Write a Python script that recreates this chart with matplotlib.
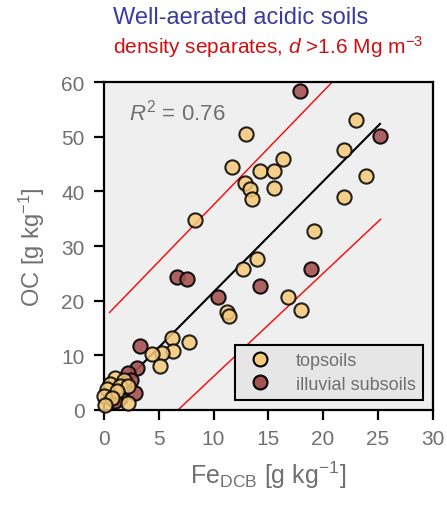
import matplotlib
matplotlib.use("Agg")
import matplotlib.pyplot as plt
from matplotlib.lines import Line2D

plt.rcParams['font.family'] = ['Liberation Sans', 'DejaVu Sans']
plt.rcParams['mathtext.fontset'] = 'custom'
plt.rcParams['mathtext.rm'] = 'Liberation Sans'
plt.rcParams['mathtext.it'] = 'Liberation Sans:italic'

# topsoils: Fe_DCB [g/kg], OC [g/kg]
top_fe = [23.0, 13.0, 21.9, 16.3, 11.7, 14.2, 15.5, 23.9, 12.9, 13.3, 13.5, 15.5,
          21.9, 8.3, 19.2, 14.0, 12.7, 16.8, 18.0, 11.2, 11.4, 7.8, 6.2, 6.3,
          5.3, 4.4, 5.1, 1.0, 1.8, 0.55, 1.5, 2.2, 0.25, 1.2, 0.0, 0.7, 0.1, 2.2]
top_oc = [53.2, 50.6, 47.6, 46.0, 44.5, 43.7, 43.7, 42.8, 41.6, 40.5, 38.7, 40.7,
          39.0, 34.8, 32.7, 27.6, 25.7, 20.7, 18.2, 17.8, 17.2, 12.4, 13.2, 10.7,
          10.3, 10.1, 7.9, 5.8, 5.5, 4.6, 4.3, 4.3, 3.7, 3.4, 2.4, 2.1, 0.9, 1.2]

# illuvial subsoils
sub_fe = [17.9, 25.2, 18.9, 6.7, 7.6, 14.2, 10.4, 3.3, 3.0, 2.2, 2.5, 2.8, 1.5, 1.0]
sub_oc = [58.5, 50.1, 25.7, 24.3, 24.0, 22.6, 20.7, 11.6, 7.6, 6.7, 5.5, 3.1, 2.1, 1.5]

# regression line and prediction band
fit_x = [0.0, 25.2]
fit_y = [1.25, 52.4]
upper_x = [0.5, 20.8]
upper_y = [17.8, 60.0]
lower_x = [6.8, 25.25]
lower_y = [0.0, 34.9]

c_top = '#f5c97a'
c_sub = '#a65353'
grey = '#707070'

fig = plt.figure(figsize=(4.47, 5.06), dpi=100)
ax = fig.add_axes([0.2327, 0.1887, 0.735, 0.6463])
ax.set_facecolor('#efefef')

ax.plot(fit_x, fit_y, color='black', lw=1.5, zorder=2)
ax.plot(upper_x, upper_y, color='red', lw=1.0, zorder=2)
ax.plot(lower_x, lower_y, color='red', lw=1.0, zorder=2)

ax.scatter(sub_fe, sub_oc, s=105, color=c_sub, edgecolor='black', linewidth=1.5,
           alpha=0.9, zorder=3, clip_on=False)
ax.scatter(top_fe, top_oc, s=105, color=c_top, edgecolor='black', linewidth=1.5,
           alpha=0.85, zorder=4, clip_on=False)

ax.set_xlim(0, 30)
ax.set_ylim(0, 60)
ax.set_xticks([0, 5, 10, 15, 20, 25, 30])
ax.set_yticks([0, 10, 20, 30, 40, 50, 60])
for sp in ax.spines.values():
    sp.set_linewidth(1.6)
ax.tick_params(direction='out', length=7, width=1.6, labelsize=15,
               labelcolor=grey, pad=7)

ax.set_xlabel(r'Fe$_{\mathrm{DCB}}$ [g kg$^{\mathrm{-1}}$]', fontsize=18, color=grey, labelpad=8)
ax.set_ylabel(r'OC [g kg$^{\mathrm{-1}}$]', fontsize=17, color=grey, labelpad=10)

ax.text(0.076, 0.91, r'$R^2$ = 0.76', transform=ax.transAxes, fontsize=16,
        color=grey, va='center', ha='left')

handles = [
    Line2D([], [], marker='o', ls='none', markersize=10, markerfacecolor=c_top,
           markeredgecolor='black', markeredgewidth=1.5),
    Line2D([], [], marker='o', ls='none', markersize=10, markerfacecolor=c_sub,
           markeredgecolor='black', markeredgewidth=1.5),
]
leg = ax.legend(handles, ['topsoils', 'illuvial subsoils'], loc='lower right',
                bbox_to_anchor=(0.971, 0.029), borderaxespad=0, fontsize=13,
                frameon=True, fancybox=False, edgecolor='black', facecolor='#e6e6e6',
                framealpha=1, handletextpad=1.0, labelspacing=0.35, borderpad=0.4)
leg.get_frame().set_linewidth(1.5)
leg.set_zorder(5)
for t in leg.get_texts():
    t.set_color(grey)

fig.text(0.253, 0.964, 'Well-aerated acidic soils', fontsize=17, color='#3b3b9e',
         va='center', ha='left')
fig.text(0.253, 0.907, r'density separates, $d$ >1.6 Mg m$^{-3}$', fontsize=15,
         color='#d01010', va='center', ha='left')

fig.savefig('out.png', dpi=100)
